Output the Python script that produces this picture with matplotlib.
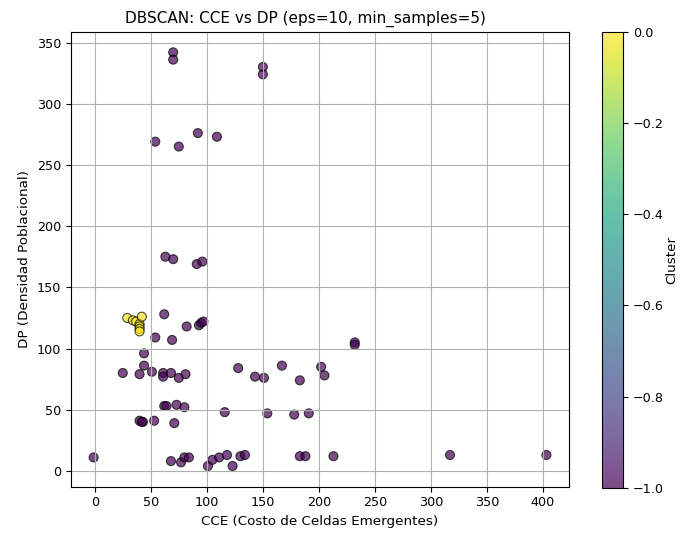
import numpy as np
import matplotlib
matplotlib.use('Agg')
import matplotlib.pyplot as plt

plt.rcParams['font.size'] = 9.2

# cluster 0 (core group)
cce_c0 = [29, 34, 37, 40, 40, 40, 40, 42]
dp_c0 = [125, 123, 122, 120, 118, 116, 114, 126]

# noise points (-1)
cce_noise = [70, 70, 150, 150,
             54, 75, 92, 109,
             63, 70, 91, 96,
             62, 82, 93, 95, 97,
             54, 69, 44, 44,
             25, 40, 51, 61, 61, 68, 75, 81,
             128, 143, 151, 167, 183, 202, 205,
             232, 232,
             62, 64, 73, 80,
             116, 154, 178, 191,
             40, 43, 42, 53, 71,
             -1, 68, 77, 80, 84, 101, 105, 111, 118, 123, 130, 134,
             183, 188, 213, 317, 403]
dp_noise = [342, 336, 330, 324,
            269, 265, 276, 273,
            175, 173, 169, 171,
            128, 118, 119, 121, 122,
            109, 107, 96, 86,
            80, 79, 81, 80, 77, 80, 76, 79,
            84, 77, 76, 86, 74, 85, 78,
            105, 103,
            53, 53, 54, 52,
            48, 47, 46, 47,
            41, 40, 40, 41, 39,
            11, 8, 7, 11, 11, 4, 9, 11, 13, 4, 12, 13,
            12, 12, 12, 13, 13]

cce = np.array(cce_noise + cce_c0)
dp = np.array(dp_noise + dp_c0)
labels = np.array([-1] * len(cce_noise) + [0] * len(cce_c0))

fig = plt.figure(figsize=(6.8, 5.36), dpi=100)
ax = fig.add_axes([0.1044, 0.092, 0.7324, 0.849])
cax = fig.add_axes([0.8849, 0.0899, 0.0318, 0.8508])

sc = ax.scatter(cce, dp, c=labels, cmap='viridis', s=42, alpha=0.7,
                edgecolors='k', linewidths=0.8)
ax.set_title('DBSCAN: CCE vs DP (eps=10, min_samples=5)', fontsize=11, x=0.47)
ax.set_xlabel('CCE (Costo de Celdas Emergentes)', fontsize=9.7)
ax.set_ylabel('DP (Densidad Poblacional)', fontsize=9.7)
ax.grid(True)

cbar = fig.colorbar(sc, cax=cax)
# keep the label just inside the right edge
cbar.set_label('Cluster', fontsize=9.7, labelpad=1)

fig.savefig('out.png', dpi=100)
